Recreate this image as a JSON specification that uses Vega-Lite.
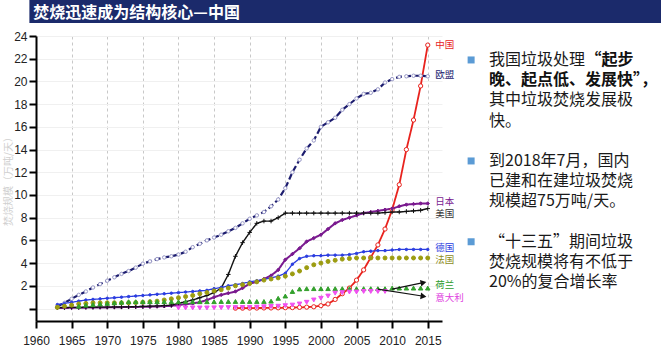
{
"$schema": "https://vega.github.io/schema/vega-lite/v6.json",
"padding": {"left": 3, "top": 0, "right": 0, "bottom": 0},
"background": "white",
"config": {"view": {"stroke": null}},
"datasets": {
"series": [
{"s":"中国","x":1988,"v":0.03},{"s":"中国","x":1989,"v":0.03},{"s":"中国","x":1990,"v":0.04},{"s":"中国","x":1991,"v":0.04},{"s":"中国","x":1992,"v":0.05},{"s":"中国","x":1993,"v":0.05},{"s":"中国","x":1994,"v":0.06},{"s":"中国","x":1995,"v":0.07},{"s":"中国","x":1996,"v":0.08},{"s":"中国","x":1997,"v":0.1},{"s":"中国","x":1998,"v":0.12},{"s":"中国","x":1999,"v":0.15},{"s":"中国","x":2000,"v":0.25},{"s":"中国","x":2001,"v":0.4},{"s":"中国","x":2002,"v":0.8},{"s":"中国","x":2003,"v":1.3},{"s":"中国","x":2004,"v":1.8},{"s":"中国","x":2005,"v":2.5},{"s":"中国","x":2006,"v":3.4},{"s":"中国","x":2007,"v":4.5},{"s":"中国","x":2008,"v":5.6},{"s":"中国","x":2009,"v":7.0},{"s":"中国","x":2010,"v":8.7},{"s":"中国","x":2011,"v":10.9},{"s":"中国","x":2012,"v":14.0},{"s":"中国","x":2013,"v":16.6},{"s":"中国","x":2014,"v":19.6},{"s":"中国","x":2015,"v":23.2},
{"s":"欧盟","x":1963,"v":0.2},{"s":"欧盟","x":1964,"v":0.5},{"s":"欧盟","x":1965,"v":0.85},{"s":"欧盟","x":1966,"v":1.2},{"s":"欧盟","x":1967,"v":1.5},{"s":"欧盟","x":1968,"v":1.85},{"s":"欧盟","x":1969,"v":2.15},{"s":"欧盟","x":1970,"v":2.45},{"s":"欧盟","x":1971,"v":2.75},{"s":"欧盟","x":1972,"v":3.05},{"s":"欧盟","x":1973,"v":3.3},{"s":"欧盟","x":1974,"v":3.6},{"s":"欧盟","x":1975,"v":3.95},{"s":"欧盟","x":1976,"v":4.15},{"s":"欧盟","x":1977,"v":4.35},{"s":"欧盟","x":1978,"v":4.5},{"s":"欧盟","x":1979,"v":4.6},{"s":"欧盟","x":1980,"v":4.75},{"s":"欧盟","x":1981,"v":5.0},{"s":"欧盟","x":1982,"v":5.4},{"s":"欧盟","x":1983,"v":5.7},{"s":"欧盟","x":1984,"v":6.0},{"s":"欧盟","x":1985,"v":6.25},{"s":"欧盟","x":1986,"v":6.5},{"s":"欧盟","x":1987,"v":6.8},{"s":"欧盟","x":1988,"v":7.1},{"s":"欧盟","x":1989,"v":7.5},{"s":"欧盟","x":1990,"v":7.9},{"s":"欧盟","x":1991,"v":8.2},{"s":"欧盟","x":1992,"v":8.5},{"s":"欧盟","x":1993,"v":9.0},{"s":"欧盟","x":1994,"v":9.6},{"s":"欧盟","x":1995,"v":10.6},{"s":"欧盟","x":1996,"v":12.0},{"s":"欧盟","x":1997,"v":13.1},{"s":"欧盟","x":1998,"v":14.1},{"s":"欧盟","x":1999,"v":14.8},{"s":"欧盟","x":2000,"v":16.0},{"s":"欧盟","x":2001,"v":16.4},{"s":"欧盟","x":2002,"v":16.8},{"s":"欧盟","x":2003,"v":17.5},{"s":"欧盟","x":2004,"v":18.0},{"s":"欧盟","x":2005,"v":18.5},{"s":"欧盟","x":2006,"v":18.9},{"s":"欧盟","x":2007,"v":19.0},{"s":"欧盟","x":2008,"v":19.3},{"s":"欧盟","x":2009,"v":19.9},{"s":"欧盟","x":2010,"v":20.2},{"s":"欧盟","x":2011,"v":20.4},{"s":"欧盟","x":2012,"v":20.45},{"s":"欧盟","x":2013,"v":20.5},{"s":"欧盟","x":2014,"v":20.5},{"s":"欧盟","x":2015,"v":20.45},
{"s":"日本","x":1963,"v":0.05},{"s":"日本","x":1964,"v":0.05},{"s":"日本","x":1965,"v":0.06},{"s":"日本","x":1966,"v":0.07},{"s":"日本","x":1967,"v":0.08},{"s":"日本","x":1968,"v":0.09},{"s":"日本","x":1969,"v":0.1},{"s":"日本","x":1970,"v":0.1},{"s":"日本","x":1971,"v":0.11},{"s":"日本","x":1972,"v":0.12},{"s":"日本","x":1973,"v":0.13},{"s":"日本","x":1974,"v":0.14},{"s":"日本","x":1975,"v":0.15},{"s":"日本","x":1976,"v":0.16},{"s":"日本","x":1977,"v":0.18},{"s":"日本","x":1978,"v":0.2},{"s":"日本","x":1979,"v":0.24},{"s":"日本","x":1980,"v":0.3},{"s":"日本","x":1981,"v":0.38},{"s":"日本","x":1982,"v":0.45},{"s":"日本","x":1983,"v":0.55},{"s":"日本","x":1984,"v":0.75},{"s":"日本","x":1985,"v":1.0},{"s":"日本","x":1986,"v":1.2},{"s":"日本","x":1987,"v":1.35},{"s":"日本","x":1988,"v":1.5},{"s":"日本","x":1989,"v":1.8},{"s":"日本","x":1990,"v":2.2},{"s":"日本","x":1991,"v":2.35},{"s":"日本","x":1992,"v":2.6},{"s":"日本","x":1993,"v":2.9},{"s":"日本","x":1994,"v":3.4},{"s":"日本","x":1995,"v":4.3},{"s":"日本","x":1996,"v":4.8},{"s":"日本","x":1997,"v":5.3},{"s":"日本","x":1998,"v":5.9},{"s":"日本","x":1999,"v":6.2},{"s":"日本","x":2000,"v":6.5},{"s":"日本","x":2001,"v":7.0},{"s":"日本","x":2002,"v":7.5},{"s":"日本","x":2003,"v":7.8},{"s":"日本","x":2004,"v":8.0},{"s":"日本","x":2005,"v":8.2},{"s":"日本","x":2006,"v":8.4},{"s":"日本","x":2007,"v":8.5},{"s":"日本","x":2008,"v":8.6},{"s":"日本","x":2009,"v":8.7},{"s":"日本","x":2010,"v":8.8},{"s":"日本","x":2011,"v":9.0},{"s":"日本","x":2012,"v":9.15},{"s":"日本","x":2013,"v":9.2},{"s":"日本","x":2014,"v":9.25},{"s":"日本","x":2015,"v":9.25},
{"s":"美国","x":1963,"v":0.08},{"s":"美国","x":1964,"v":0.09},{"s":"美国","x":1965,"v":0.1},{"s":"美国","x":1966,"v":0.1},{"s":"美国","x":1967,"v":0.11},{"s":"美国","x":1968,"v":0.11},{"s":"美国","x":1969,"v":0.12},{"s":"美国","x":1970,"v":0.12},{"s":"美国","x":1971,"v":0.13},{"s":"美国","x":1972,"v":0.14},{"s":"美国","x":1973,"v":0.15},{"s":"美国","x":1974,"v":0.16},{"s":"美国","x":1975,"v":0.18},{"s":"美国","x":1976,"v":0.2},{"s":"美国","x":1977,"v":0.22},{"s":"美国","x":1978,"v":0.25},{"s":"美国","x":1979,"v":0.3},{"s":"美国","x":1980,"v":0.45},{"s":"美国","x":1981,"v":0.6},{"s":"美国","x":1982,"v":0.75},{"s":"美国","x":1983,"v":0.95},{"s":"美国","x":1984,"v":1.15},{"s":"美国","x":1985,"v":1.4},{"s":"美国","x":1986,"v":1.8},{"s":"美国","x":1987,"v":3.0},{"s":"美国","x":1988,"v":4.6},{"s":"美国","x":1989,"v":5.8},{"s":"美国","x":1990,"v":6.7},{"s":"美国","x":1991,"v":7.5},{"s":"美国","x":1992,"v":7.7},{"s":"美国","x":1993,"v":7.7},{"s":"美国","x":1994,"v":8.0},{"s":"美国","x":1995,"v":8.4},{"s":"美国","x":1996,"v":8.4},{"s":"美国","x":1997,"v":8.4},{"s":"美国","x":1998,"v":8.4},{"s":"美国","x":1999,"v":8.4},{"s":"美国","x":2000,"v":8.4},{"s":"美国","x":2001,"v":8.4},{"s":"美国","x":2002,"v":8.4},{"s":"美国","x":2003,"v":8.4},{"s":"美国","x":2004,"v":8.4},{"s":"美国","x":2005,"v":8.4},{"s":"美国","x":2006,"v":8.4},{"s":"美国","x":2007,"v":8.4},{"s":"美国","x":2008,"v":8.4},{"s":"美国","x":2009,"v":8.45},{"s":"美国","x":2010,"v":8.5},{"s":"美国","x":2011,"v":8.5},{"s":"美国","x":2012,"v":8.55},{"s":"美国","x":2013,"v":8.6},{"s":"美国","x":2014,"v":8.65},{"s":"美国","x":2015,"v":8.8},
{"s":"德国","x":1963,"v":0.35},{"s":"德国","x":1964,"v":0.45},{"s":"德国","x":1965,"v":0.55},{"s":"德国","x":1966,"v":0.65},{"s":"德国","x":1967,"v":0.75},{"s":"德国","x":1968,"v":0.8},{"s":"德国","x":1969,"v":0.85},{"s":"德国","x":1970,"v":0.9},{"s":"德国","x":1971,"v":0.95},{"s":"德国","x":1972,"v":1.0},{"s":"德国","x":1973,"v":1.05},{"s":"德国","x":1974,"v":1.1},{"s":"德国","x":1975,"v":1.15},{"s":"德国","x":1976,"v":1.2},{"s":"德国","x":1977,"v":1.25},{"s":"德国","x":1978,"v":1.3},{"s":"德国","x":1979,"v":1.35},{"s":"德国","x":1980,"v":1.4},{"s":"德国","x":1981,"v":1.45},{"s":"德国","x":1982,"v":1.5},{"s":"德国","x":1983,"v":1.55},{"s":"德国","x":1984,"v":1.6},{"s":"德国","x":1985,"v":1.75},{"s":"德国","x":1986,"v":1.85},{"s":"德国","x":1987,"v":2.0},{"s":"德国","x":1988,"v":2.1},{"s":"德国","x":1989,"v":2.2},{"s":"德国","x":1990,"v":2.35},{"s":"德国","x":1991,"v":2.45},{"s":"德国","x":1992,"v":2.55},{"s":"德国","x":1993,"v":2.7},{"s":"德国","x":1994,"v":2.85},{"s":"德国","x":1995,"v":3.1},{"s":"德国","x":1996,"v":3.9},{"s":"德国","x":1997,"v":4.4},{"s":"德国","x":1998,"v":4.6},{"s":"德国","x":1999,"v":4.65},{"s":"德国","x":2000,"v":4.65},{"s":"德国","x":2001,"v":4.7},{"s":"德国","x":2002,"v":4.7},{"s":"德国","x":2003,"v":4.7},{"s":"德国","x":2004,"v":4.75},{"s":"德国","x":2005,"v":4.85},{"s":"德国","x":2006,"v":5.0},{"s":"德国","x":2007,"v":5.05},{"s":"德国","x":2008,"v":5.1},{"s":"德国","x":2009,"v":5.1},{"s":"德国","x":2010,"v":5.15},{"s":"德国","x":2011,"v":5.2},{"s":"德国","x":2012,"v":5.2},{"s":"德国","x":2013,"v":5.2},{"s":"德国","x":2014,"v":5.2},{"s":"德国","x":2015,"v":5.2},
{"s":"法国","x":1963,"v":0.1},{"s":"法国","x":1964,"v":0.2},{"s":"法国","x":1965,"v":0.3},{"s":"法国","x":1966,"v":0.4},{"s":"法国","x":1967,"v":0.45},{"s":"法国","x":1968,"v":0.5},{"s":"法国","x":1969,"v":0.5},{"s":"法国","x":1970,"v":0.5},{"s":"法国","x":1971,"v":0.5},{"s":"法国","x":1972,"v":0.5},{"s":"法国","x":1973,"v":0.5},{"s":"法国","x":1974,"v":0.52},{"s":"法国","x":1975,"v":0.55},{"s":"法国","x":1976,"v":0.6},{"s":"法国","x":1977,"v":0.65},{"s":"法国","x":1978,"v":0.75},{"s":"法国","x":1979,"v":0.85},{"s":"法国","x":1980,"v":0.95},{"s":"法国","x":1981,"v":1.05},{"s":"法国","x":1982,"v":1.15},{"s":"法国","x":1983,"v":1.3},{"s":"法国","x":1984,"v":1.4},{"s":"法国","x":1985,"v":1.55},{"s":"法国","x":1986,"v":1.65},{"s":"法国","x":1987,"v":1.8},{"s":"法国","x":1988,"v":2.0},{"s":"法国","x":1989,"v":2.1},{"s":"法国","x":1990,"v":2.2},{"s":"法国","x":1991,"v":2.35},{"s":"法国","x":1992,"v":2.5},{"s":"法国","x":1993,"v":2.6},{"s":"法国","x":1994,"v":2.7},{"s":"法国","x":1995,"v":2.85},{"s":"法国","x":1996,"v":3.05},{"s":"法国","x":1997,"v":3.3},{"s":"法国","x":1998,"v":3.6},{"s":"法国","x":1999,"v":3.85},{"s":"法国","x":2000,"v":4.0},{"s":"法国","x":2001,"v":4.15},{"s":"法国","x":2002,"v":4.25},{"s":"法国","x":2003,"v":4.35},{"s":"法国","x":2004,"v":4.4},{"s":"法国","x":2005,"v":4.45},{"s":"法国","x":2006,"v":4.45},{"s":"法国","x":2007,"v":4.45},{"s":"法国","x":2008,"v":4.45},{"s":"法国","x":2009,"v":4.45},{"s":"法国","x":2010,"v":4.45},{"s":"法国","x":2011,"v":4.45},{"s":"法国","x":2012,"v":4.45},{"s":"法国","x":2013,"v":4.45},{"s":"法国","x":2014,"v":4.45},{"s":"法国","x":2015,"v":4.45},
{"s":"荷兰","x":1966,"v":0.2},{"s":"荷兰","x":1967,"v":0.3},{"s":"荷兰","x":1968,"v":0.35},{"s":"荷兰","x":1969,"v":0.4},{"s":"荷兰","x":1970,"v":0.45},{"s":"荷兰","x":1971,"v":0.5},{"s":"荷兰","x":1972,"v":0.55},{"s":"荷兰","x":1973,"v":0.6},{"s":"荷兰","x":1974,"v":0.6},{"s":"荷兰","x":1975,"v":0.6},{"s":"荷兰","x":1976,"v":0.6},{"s":"荷兰","x":1977,"v":0.6},{"s":"荷兰","x":1978,"v":0.6},{"s":"荷兰","x":1979,"v":0.6},{"s":"荷兰","x":1980,"v":0.6},{"s":"荷兰","x":1981,"v":0.6},{"s":"荷兰","x":1982,"v":0.6},{"s":"荷兰","x":1983,"v":0.6},{"s":"荷兰","x":1984,"v":0.6},{"s":"荷兰","x":1985,"v":0.6},{"s":"荷兰","x":1986,"v":0.62},{"s":"荷兰","x":1987,"v":0.62},{"s":"荷兰","x":1988,"v":0.62},{"s":"荷兰","x":1989,"v":0.62},{"s":"荷兰","x":1990,"v":0.62},{"s":"荷兰","x":1991,"v":0.62},{"s":"荷兰","x":1992,"v":0.62},{"s":"荷兰","x":1993,"v":0.65},{"s":"荷兰","x":1994,"v":0.9},{"s":"荷兰","x":1995,"v":1.1},{"s":"荷兰","x":1996,"v":1.5},{"s":"荷兰","x":1997,"v":1.72},{"s":"荷兰","x":1998,"v":1.75},{"s":"荷兰","x":1999,"v":1.75},{"s":"荷兰","x":2000,"v":1.75},{"s":"荷兰","x":2001,"v":1.75},{"s":"荷兰","x":2002,"v":1.75},{"s":"荷兰","x":2003,"v":1.75},{"s":"荷兰","x":2004,"v":1.75},{"s":"荷兰","x":2005,"v":1.75},{"s":"荷兰","x":2006,"v":1.75},{"s":"荷兰","x":2007,"v":1.75},{"s":"荷兰","x":2008,"v":1.75},{"s":"荷兰","x":2009,"v":1.75},{"s":"荷兰","x":2010,"v":1.8},{"s":"荷兰","x":2011,"v":1.8},{"s":"荷兰","x":2012,"v":1.8},{"s":"荷兰","x":2013,"v":1.8},{"s":"荷兰","x":2014,"v":1.8},{"s":"荷兰","x":2015,"v":1.8},
{"s":"意大利","x":1980,"v":0.05},{"s":"意大利","x":1981,"v":0.05},{"s":"意大利","x":1982,"v":0.05},{"s":"意大利","x":1983,"v":0.05},{"s":"意大利","x":1984,"v":0.05},{"s":"意大利","x":1985,"v":0.06},{"s":"意大利","x":1986,"v":0.07},{"s":"意大利","x":1987,"v":0.08},{"s":"意大利","x":1988,"v":0.08},{"s":"意大利","x":1989,"v":0.09},{"s":"意大利","x":1990,"v":0.1},{"s":"意大利","x":1991,"v":0.12},{"s":"意大利","x":1992,"v":0.15},{"s":"意大利","x":1993,"v":0.18},{"s":"意大利","x":1994,"v":0.2},{"s":"意大利","x":1995,"v":0.25},{"s":"意大利","x":1996,"v":0.3},{"s":"意大利","x":1997,"v":0.4},{"s":"意大利","x":1998,"v":0.55},{"s":"意大利","x":1999,"v":0.75},{"s":"意大利","x":2000,"v":0.9},{"s":"意大利","x":2001,"v":1.1},{"s":"意大利","x":2002,"v":1.35},{"s":"意大利","x":2003,"v":1.4},{"s":"意大利","x":2004,"v":1.45},{"s":"意大利","x":2005,"v":1.45},{"s":"意大利","x":2006,"v":1.5},{"s":"意大利","x":2007,"v":1.5},{"s":"意大利","x":2008,"v":1.5},{"s":"意大利","x":2009,"v":1.5}
],
"labels": [
{"s":"中国","x":2016.05,"v":23.2},{"s":"欧盟","x":2016.05,"v":20.6},{"s":"日本","x":2016.05,"v":9.4},{"s":"美国","x":2016.05,"v":8.3},{"s":"德国","x":2016.05,"v":5.35},{"s":"法国","x":2016.05,"v":4.25},{"s":"荷兰","x":2016.05,"v":2.05},{"s":"意大利","x":2016.05,"v":0.95}
],
"notes": [
{"l":0,"c":0,"t":"我国垃圾处理","b":0},{"l":0,"c":5.85,"t":"“起步","b":1},{"l":1,"c":0,"t":"晚、起点低、发展快”，","b":1},{"l":2,"c":0,"t":"其中垃圾焚烧发展极","b":0},{"l":3,"c":0,"t":"快。","b":0},
{"l":5,"c":0,"t":"到2018年7月，国内","b":0},{"l":6,"c":0,"t":"已建和在建垃圾焚烧","b":0},{"l":7,"c":0,"t":"规模超75万吨/天。","b":0},
{"l":9,"c":0,"t":"“十三五”期间垃圾","b":0},{"l":10,"c":0,"t":"焚烧规模将有不低于","b":0},{"l":11,"c":0,"t":"20%的复合增长率","b":0}
]
},
"spacing": 7,
"vconcat": [
{
"width": 661, "height": 23,
"data": {"values": [{"t": "焚烧迅速成为结构核心—中国", "a": -0.01, "a2": 1, "b": 0, "b2": 1, "tx": -0.004, "ty": 0.44}]},
"layer": [
{"mark": {"type": "rect", "color": "#1b2a6b"},
 "encoding": {
  "x": {"field": "a", "type": "quantitative", "scale": {"domain": [0, 1], "nice": false, "zero": false}, "axis": null},
  "x2": {"field": "a2"},
  "y": {"field": "b", "type": "quantitative", "scale": {"domain": [0, 1], "nice": false}, "axis": null},
  "y2": {"field": "b2"}}},
{"mark": {"type": "text", "align": "left", "baseline": "middle", "color": "white", "fontSize": 16, "font": "Noto Sans CJK SC", "fontWeight": "bold"},
 "encoding": {
  "x": {"field": "tx", "type": "quantitative"},
  "y": {"field": "ty", "type": "quantitative"},
  "text": {"field": "t"}}}
]
},
{
"spacing": 2,
"hconcat": [
{
"width": 406, "height": 285,
"encoding": {
  "x": {"field": "x", "type": "quantitative", "scale": {"domain": [1960, 2017], "nice": false, "zero": false},
   "axis": {"title": null, "values": [1960,1965,1970,1975,1980,1985,1990,1995,2000,2005,2010,2015], "tickCount": 12, "format": "d", "labelOverlap": false, "labelFlush": false, "grid": true, "gridDash": [3,3], "gridColor": "#c8c8c8", "domainColor": "#000000", "domainWidth": 2, "tickColor": "#000000", "tickWidth": 2, "tickSize": 7, "labelFontSize": 12, "labelColor": "#222222", "labelPadding": 7, "labelFont": "Liberation Sans"}},
  "y": {"field": "v", "type": "quantitative", "scale": {"domain": [-1.1, 24], "nice": false, "zero": false},
   "axis": {"title": "焚烧规模（万吨/天）", "values": [0,2,4,6,8,10,12,14,16,18,20,22,24], "tickCount": 13, "labelExpr": "datum.value == 0 ? '' : datum.label", "labelOverlap": false, "labelFlush": false, "grid": true, "gridColor": "#f0f0f0", "domainColor": "#000000", "domainWidth": 2, "tickColor": "#000000", "tickWidth": 2, "tickSize": 7, "labelFontSize": 12, "labelColor": "#222222", "labelPadding": 2, "labelFont": "Liberation Sans", "titleColor": "#d0d0d0", "titleFont": "Noto Sans CJK SC", "titleFontSize": 10, "titleFontWeight": "normal", "titlePadding": 0}}
},
"resolve": {"scale": {"stroke": "independent"}},
"layer": [
{"data": {"name": "series"},
 "transform": [{"filter": "indexof(['中国','欧盟','日本','美国','德国'], datum.s) >= 0"}],
 "mark": {"type": "line", "strokeCap": "butt"},
 "encoding": {
  "stroke": {"field": "s", "type": "nominal", "legend": null, "scale": {"domain": ["中国","欧盟","日本","美国","德国"], "range": ["#e8231e","#1c1c6e","#7a1a8f","#111111","#2b3de0"]}},
  "strokeDash": {"field": "s", "type": "nominal", "legend": null, "scale": {"domain": ["中国","欧盟","日本","美国","德国"], "range": [[1,0],[6,3],[1,0],[1,0],[1,0]]}},
  "strokeWidth": {"field": "s", "type": "nominal", "legend": null, "scale": {"type": "ordinal", "domain": ["中国","欧盟","日本","美国","德国"], "range": [1.8,2.2,2,1.4,1.3]}}
 }},
{"data": {"name": "series"},
 "mark": {"type": "point", "filled": true, "strokeWidth": 1, "opacity": 1},
 "encoding": {
  "shape": {"field": "s", "type": "nominal", "legend": null, "scale": {"domain": ["中国","欧盟","日本","美国","德国","法国","荷兰","意大利"], "range": ["circle","circle","diamond","M-1,0L1,0M0,-1L0,1","circle","circle","triangle-up","triangle-down"]}},
  "fill": {"field": "s", "type": "nominal", "legend": null, "scale": {"domain": ["中国","欧盟","日本","美国","德国","法国","荷兰","意大利"], "range": ["#ffffff","#ffffff","#7a1a8f","#111111","#2b3de0","#9c9c10","#33a02c","#f050f0"]}},
  "stroke": {"field": "s", "type": "nominal", "legend": null, "scale": {"domain": ["中国","欧盟","日本","美国","德国","法国","荷兰","意大利"], "range": ["#e8231e","#9a9ac8","#7a1a8f","#111111","#2b3de0","#9c9c10","#33a02c","#f050f0"]}},
  "size": {"field": "s", "type": "nominal", "legend": null, "scale": {"type": "ordinal", "domain": ["中国","欧盟","日本","美国","德国","法国","荷兰","意大利"], "range": [18,12,12,20,6,16,20,20]}}
 }
},
{"data": {"name": "labels"},
 "mark": {"type": "text", "align": "left", "baseline": "middle", "fontSize": 9.5, "font": "Noto Sans CJK SC"},
 "encoding": {
  "text": {"field": "s"},
  "color": {"field": "s", "type": "nominal", "legend": null, "scale": {"domain": ["中国","欧盟","日本","美国","德国","法国","荷兰","意大利"], "range": ["#e8231e","#1c1c6e","#7a1a8f","#333333","#2b3de0","#8b8b1a","#2e9b2e","#e040e0"]}}
 }},
{"data": {"values": [{"x": 2010, "v": 1.7, "x2": 2014.2, "v2": 2.25}, {"x": 2008, "v": 1.7, "x2": 2014.2, "v2": 1.1}]},
 "mark": {"type": "rule", "color": "#111111", "strokeWidth": 1.2},
 "encoding": {
  "x2": {"field": "x2"},
  "y2": {"field": "v2"}
 }},
{"data": {"values": [{"x": 2014.4, "v": 2.28}]},
 "mark": {"type": "point", "shape": "triangle-right", "filled": true, "color": "#111111", "size": 45, "angle": 348, "opacity": 1},
 "encoding": {}},
{"data": {"values": [{"x": 2014.4, "v": 1.08}]},
 "mark": {"type": "point", "shape": "triangle-right", "filled": true, "color": "#111111", "size": 45, "angle": 8, "opacity": 1},
 "encoding": {}}
]
},
{
"width": 180, "height": 285,
"data": {"name": "notes"},
"layer": [
{"data": {"values": [{"c": -1.09, "l": 0}, {"c": -1.09, "l": 5}, {"c": -1.09, "l": 9}]},
 "mark": {"type": "square", "color": "#5b9bd5", "size": 49, "opacity": 1},
 "encoding": {
  "x": {"field": "c", "type": "quantitative", "scale": {"domain": [-1.4, 9.51], "nice": false, "zero": false}, "axis": null},
  "y": {"field": "l", "type": "quantitative", "scale": {"domain": [-1.186, 12.923], "nice": false, "zero": false, "reverse": true}, "axis": null}
 }},
{"transform": [{"filter": "datum.b == 0"}],
 "mark": {"type": "text", "align": "left", "baseline": "middle", "fontSize": 16, "font": "Noto Sans CJK SC", "color": "#1a1a1a"},
 "encoding": {
  "x": {"field": "c", "type": "quantitative"},
  "y": {"field": "l", "type": "quantitative"},
  "text": {"field": "t"}
 }},
{"transform": [{"filter": "datum.b == 1"}],
 "mark": {"type": "text", "align": "left", "baseline": "middle", "fontSize": 16, "font": "Noto Sans CJK SC", "fontWeight": "bold", "color": "#111111"},
 "encoding": {
  "x": {"field": "c", "type": "quantitative"},
  "y": {"field": "l", "type": "quantitative"},
  "text": {"field": "t"}
 }}
]
}
]
}
]
}
